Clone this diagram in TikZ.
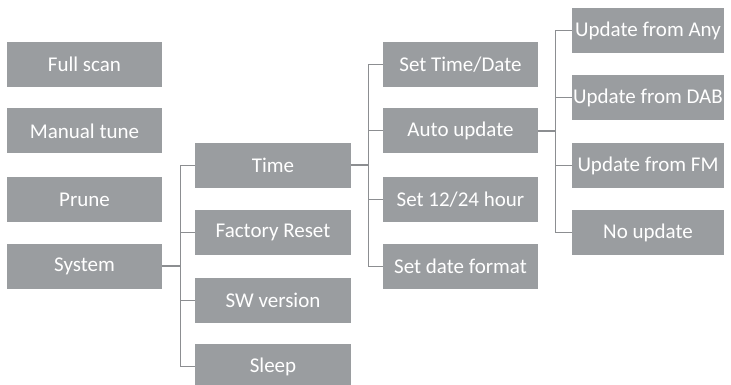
\documentclass[tikz,border=0pt]{standalone}
\usepackage{fontspec}
\setmainfont{Carlito}
\definecolor{boxgray}{RGB}{154,157,160}
\definecolor{linegray}{RGB}{140,142,145}
\begin{document}
\begin{tikzpicture}[x=1pt,y=-1pt,
  menubox/.style={fill=boxgray, draw=none, text=white, minimum height=45pt, inner sep=0pt, font=\fontsize{21}{24}\selectfont},
  c1/.style={menubox, minimum width=155pt},
  c2/.style={menubox, minimum width=156pt},
  c3/.style={menubox, minimum width=155pt},
  c4/.style={menubox, minimum width=152pt},
  link/.style={draw=linegray, line width=1pt},
  stub/.style={draw=linegray, line width=2pt}]
\useasboundingbox (0,0) rectangle (731,385);
\node[c1] (fs) at (84.5,64.5) {Full scan};
\node[c1] (mt) at (84.5,131) {Manual tune};
\node[c1] (pr) at (84.5,199.5) {Prune};
\node[c1] (sys) at (84.5,266) {System};
\node[c2] (time) at (273,165.5) {Time};
\node[c2] (fr) at (273,232) {Factory Reset};
\node[c2] (sw) at (273,300.5) {SW version};
\node[c2] (sl) at (273,366.5) {Sleep};
\node[c3] (std) at (460.5,64.5) {Set Time/Date};
\node[c3] (au) at (460.5,131) {Auto update};
\node[c3] (s12) at (460.5,199.5) {Set 12/24 hour};
\node[c3] (sdf) at (460.5,266) {Set date format};
\node[c4] (uany) at (648,30.5) {Update from Any};
\node[c4] (udab) at (648,97.5) {Update from DAB};
\node[c4] (ufm) at (648,165.5) {Update from FM};
\node[c4] (nu) at (648,232.5) {No update};
\coordinate (j1) at (180,266);
\coordinate (j2) at (368,165.5);
\coordinate (j3) at (555,131);
\draw[stub] (sys.east) -- (j1);
\foreach \n in {time,fr,sw,sl} \draw[link] (\n.west) -| (j1);
\draw[stub] (time.east) -- (j2);
\foreach \n in {std,au,s12,sdf} \draw[link] (\n.west) -| (j2);
\draw[stub] (au.east) -- (j3);
\foreach \n in {uany,udab,ufm,nu} \draw[link] (\n.west) -| (j3);
\end{tikzpicture}
\end{document}
